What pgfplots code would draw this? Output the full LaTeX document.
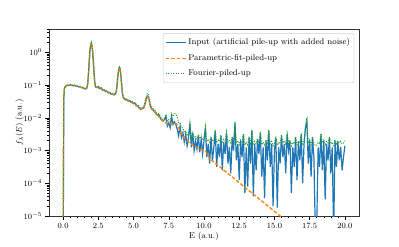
\documentclass[border=0pt]{standalone}
\usepackage{pgfplots}
\pgfplotsset{compat=1.18}
\usepackage{pgfplotstable}
\definecolor{C0}{HTML}{1F77B4}
\definecolor{C1}{HTML}{FF7F0E}
\definecolor{C2}{HTML}{2CA02C}

\pgfplotstableread{
x y
0.0 1e-7
0.05 0.04
0.1 0.082
0.2 0.093
0.3 0.1
0.4 0.097
0.5 0.104
0.6 0.099
0.7 0.096
0.8 0.1
0.9 0.093
1.0 0.095
1.1 0.088
1.2 0.09
1.3 0.083
1.4 0.086
1.5 0.078
1.6 0.076
1.7 0.084
1.75 0.112
1.8 0.22
1.85 0.5
1.9 1.05
1.95 1.62
2.0 1.97
2.05 1.58
2.1 1.04
2.15 0.51
2.2 0.23
2.25 0.12
2.3 0.088
2.4 0.085
2.5 0.09
2.6 0.078
2.7 0.082
2.8 0.07
2.9 0.073
3.0 0.064
3.1 0.066
3.2 0.058
3.3 0.06
3.4 0.053
3.5 0.055
3.6 0.05
3.7 0.053
3.75 0.059
3.8 0.076
3.85 0.126
3.9 0.21
3.95 0.31
4.0 0.35
4.05 0.31
4.1 0.2
4.15 0.11
4.2 0.062
4.25 0.046
4.3 0.04
4.4 0.036
4.5 0.037
4.6 0.033
4.7 0.034
4.8 0.03
4.9 0.031
5.0 0.027
5.1 0.028
5.2 0.024
5.3 0.023
5.4 0.02
5.5 0.018
5.6 0.019
5.7 0.02
5.75 0.021
5.8 0.026
5.85 0.031
5.9 0.038
5.95 0.043
6.0 0.046
6.05 0.043
6.1 0.036
6.15 0.028
6.2 0.022
6.3 0.019
6.4 0.017
6.5 0.016
6.6 0.013
6.7 0.012
6.8 0.0125
6.9 0.0098
7.0 0.0085
7.1 7.9e-3
7.2 8.9e-3
7.3 1.12e-2
7.4 5.6e-3
7.5 7.1e-3
7.6 5.0e-3
7.7 1.12e-2
7.8 6.3e-3
7.9 7.6e-3
8.0 6.3e-3
8.1 4.5e-3
8.2 2.8e-3
8.3 5.6e-3
8.4 2.5e-3
8.5 3.5e-3
8.6 1.8e-3
8.7 3.2e-3
8.8 1.4e-3
8.9 2.5e-3
9.0 6.8e-3
9.1 1.26e-3
9.2 3.5e-3
9.3 1.0e-3
9.4 2.0e-3
9.5 1.12e-3
9.6 2.8e-3
9.7 8.9e-4
9.8 2.2e-3
9.9 7.9e-4
10.0 2.0e-3
10.1 5.0e-3
10.2 6.3e-4
10.3 1.6e-3
10.4 4.0e-4
10.5 2.5e-3
10.6 5.0e-4
10.7 1.26e-3
10.8 4.0e-3
10.9 3.2e-4
11.0 1.6e-3
11.1 6.3e-4
11.2 2.8e-3
11.3 2.5e-4
11.4 1.8e-3
11.5 7.9e-4
11.6 3.5e-3
11.7 4.0e-4
11.8 1.26e-3
11.9 2.0e-4
12.0 2.5e-3
12.1 1.0e-3
12.2 7.1e-3
12.3 5.0e-4
12.4 1.6e-3
12.5 1.26e-4
12.6 2.0e-3
12.7 6.3e-4
12.8 3.2e-3
12.9 5.0e-5
13.0 1.26e-3
13.1 7.9e-5
13.2 2.5e-3
13.3 4.0e-4
13.4 4.0e-3
13.5 4.0e-5
13.6 1.6e-3
13.7 2.5e-4
13.8 2.2e-3
13.9 7.9e-4
14.0 3.5e-3
14.1 1.6e-4
14.2 1.26e-3
14.3 3.5e-5
14.4 2.0e-3
14.5 5.0e-4
14.6 4.0e-3
14.7 3.2e-4
14.8 1.6e-3
14.9 2.0e-5
15.0 1.0e-3
15.1 2.5e-3
15.2 1.8e-5
15.3 1.26e-3
15.4 4.0e-4
15.5 2.8e-3
15.6 6.3e-4
15.7 1.6e-3
15.8 2.0e-4
15.9 3.2e-3
16.0 1.0e-3
16.1 2.0e-3
16.2 5.0e-5
16.3 1.26e-3
16.4 3.2e-4
16.5 2.5e-3
16.6 1.26e-4
16.7 1.8e-3
16.8 5.0e-4
16.9 3.2e-3
17.0 1.0e-4
17.1 1.6e-3
17.2 5.0e-3
17.3 7.9e-3
17.4 4.0e-4
17.5 2.0e-3
17.6 1.6e-4
17.7 2.5e-3
17.8 6.3e-4
17.9 3.2e-6
18.0 5.0e-6
18.1 1.26e-3
18.2 3.2e-4
18.3 3.2e-3
18.4 2.5e-4
18.5 2.0e-3
18.6 3.2e-5
18.7 1.6e-3
18.8 5.0e-4
18.9 2.5e-3
19.0 2.0e-4
19.1 1.26e-3
19.2 2.5e-6
19.3 2.0e-3
19.4 3.2e-4
19.5 1.8e-3
19.6 5.0e-4
19.7 1.26e-3
19.8 2.5e-4
19.9 6.3e-4
20.0 1.4e-3
}\inputdata

\pgfplotstableread{
x y
0.0 1e-7
0.03 0.04
0.1 0.085
0.2 0.095
0.3 0.1
0.5 0.102
0.7 0.098
1.0 0.092
1.3 0.085
1.6 0.079
1.7 0.083
1.75 0.11
1.8 0.21
1.85 0.49
1.9 1.03
1.95 1.6
2.0 1.93
2.05 1.6
2.1 1.03
2.15 0.49
2.2 0.21
2.25 0.11
2.3 0.09
2.4 0.086
2.7 0.076
3.0 0.066
3.3 0.058
3.6 0.052
3.7 0.053
3.75 0.058
3.8 0.075
3.85 0.124
3.9 0.205
3.95 0.3
4.0 0.34
4.05 0.3
4.1 0.195
4.15 0.108
4.2 0.06
4.25 0.045
4.3 0.039
4.4 0.036
4.7 0.032
5.0 0.027
5.3 0.022
5.5 0.019
5.7 0.0195
5.75 0.021
5.8 0.025
5.85 0.03
5.9 0.037
5.95 0.042
6.0 0.044
6.05 0.041
6.1 0.035
6.15 0.027
6.2 0.021
6.3 0.018
6.6 0.0135
7.0 0.0085
7.4 0.0066
7.7 0.0063
7.9 0.0071
8.1 0.0063
8.3 0.004
8.5 0.0028
8.7 0.0022
9.0 0.00166
9.3 0.00138
9.6 0.00115
9.8 0.00107
10.0 0.00102
10.1 0.001
10.2 0.00083
10.3 0.00068
10.4 0.00058
10.5 0.00052
11.0 0.00035
11.5 0.000234
12.0 0.000155
12.5 0.000105
13.0 6.9e-5
13.5 4.7e-5
14.0 3.1e-5
14.5 2.1e-5
15.0 1.38e-5
15.5 9.3e-6
16.0 6.2e-6
17.0 2.7e-6
18.0 1.2e-6
19.0 5e-7
20.0 2.2e-7
}\paramdata

\pgfplotstableread{
x y
0.0 1e-7
0.05 0.042
0.1 0.084
0.2 0.095
0.3 0.099
0.4 0.1
0.5 0.103
0.6 0.1
0.7 0.097
0.8 0.099
0.9 0.094
1.0 0.094
1.1 0.09
1.2 0.089
1.3 0.085
1.4 0.085
1.5 0.08
1.6 0.077
1.7 0.086
1.75 0.115
1.8 0.225
1.85 0.51
1.9 1.07
1.95 1.65
2.0 2.02
2.05 1.62
2.1 1.06
2.15 0.52
2.2 0.235
2.25 0.123
2.3 0.09
2.4 0.087
2.5 0.092
2.6 0.08
2.7 0.083
2.8 0.072
2.9 0.075
3.0 0.066
3.1 0.067
3.2 0.06
3.3 0.061
3.4 0.055
3.5 0.056
3.6 0.052
3.7 0.055
3.75 0.061
3.8 0.079
3.85 0.13
3.9 0.22
3.95 0.32
4.0 0.37
4.05 0.32
4.1 0.21
4.15 0.115
4.2 0.065
4.25 0.048
4.3 0.042
4.4 0.038
4.5 0.038
4.6 0.035
4.7 0.035
4.8 0.032
4.9 0.032
5.0 0.029
5.1 0.029
5.2 0.026
5.3 0.025
5.4 0.022
5.5 0.02
5.6 0.021
5.7 0.022
5.75 0.024
5.8 0.03
5.85 0.037
5.9 0.046
5.95 0.053
6.0 0.057
6.05 0.052
6.1 0.043
6.15 0.033
6.2 0.026
6.3 0.022
6.4 0.019
6.5 0.018
6.6 0.015
6.7 0.0135
6.8 0.0135
6.9 0.011
7.0 0.0095
7.1 8.9e-3
7.2 1.0e-2
7.3 1.26e-2
7.4 7.9e-3
7.5 8.9e-3
7.6 7.9e-3
7.7 1.26e-2
7.8 1.12e-2
7.9 1.35e-2
8.0 1.32e-2
8.1 1.05e-2
8.2 7.1e-3
8.3 7.1e-3
8.4 5.0e-3
8.5 5.0e-3
8.6 3.5e-3
8.7 4.0e-3
8.8 2.8e-3
8.9 3.2e-3
9.0 7.1e-3
9.1 2.4e-3
9.2 3.8e-3
9.3 2.6e-3
9.4 2.8e-3
9.5 2.2e-3
9.6 3.2e-3
9.7 2.3e-3
9.8 2.6e-3
9.9 2.1e-3
10.0 2.4e-3
10.1 5.4e-3
10.2 2.0e-3
10.3 2.2e-3
10.4 1.8e-3
10.5 2.7e-3
10.6 1.9e-3
10.7 2.2e-3
10.8 4.3e-3
10.9 1.7e-3
11.0 2.1e-3
11.1 1.9e-3
11.2 3.0e-3
11.3 1.7e-3
11.4 2.2e-3
11.5 1.95e-3
11.6 3.8e-3
11.7 1.8e-3
11.8 2.0e-3
11.9 1.6e-3
12.0 2.7e-3
12.1 2.0e-3
12.2 7.6e-3
12.3 1.7e-3
12.4 2.0e-3
12.5 1.5e-3
12.6 2.1e-3
12.7 1.7e-3
12.8 3.4e-3
12.9 1.45e-3
13.0 1.8e-3
13.1 1.5e-3
13.2 2.7e-3
13.3 1.7e-3
13.4 4.3e-3
13.5 1.45e-3
13.6 1.9e-3
13.7 1.6e-3
13.8 2.4e-3
13.9 1.7e-3
14.0 3.8e-3
14.1 1.5e-3
14.2 1.8e-3
14.3 1.4e-3
14.4 2.1e-3
14.5 1.7e-3
14.6 4.3e-3
14.7 1.6e-3
14.8 1.9e-3
14.9 1.4e-3
15.0 1.7e-3
15.1 2.7e-3
15.2 1.45e-3
15.3 1.8e-3
15.4 1.6e-3
15.5 3.0e-3
15.6 1.7e-3
15.7 2.0e-3
15.8 1.5e-3
15.9 3.4e-3
16.0 1.8e-3
16.1 2.1e-3
16.2 1.4e-3
16.3 1.8e-3
16.4 1.6e-3
16.5 2.7e-3
16.6 1.5e-3
16.7 2.0e-3
16.8 1.7e-3
16.9 3.4e-3
17.0 1.45e-3
17.1 1.9e-3
17.2 5.4e-3
17.3 1.0e-2
17.4 1.7e-3
17.5 2.1e-3
17.6 1.5e-3
17.7 2.7e-3
17.8 1.7e-3
17.9 1.4e-3
18.0 1.45e-3
18.1 1.8e-3
18.2 1.6e-3
18.3 3.4e-3
18.4 1.7e-3
18.5 2.1e-3
18.6 1.4e-3
18.7 1.9e-3
18.8 1.7e-3
18.9 2.7e-3
19.0 1.6e-3
19.1 1.8e-3
19.2 1.3e-3
19.3 2.1e-3
19.4 1.6e-3
19.5 2.0e-3
19.6 1.7e-3
19.7 1.9e-3
19.8 1.6e-3
19.9 1.7e-3
20.0 2.0e-3
}\fourierdata

\begin{document}
\begin{tikzpicture}
\path[use as bounding box] (0,0) rectangle (399bp,247bp);
\begin{axis}[
  at={(49bp,31bp)}, anchor=south west,
  scale only axis, width=310bp, height=187bp,
  ymode=log,
  xmin=-1, xmax=21, ymin=1e-5, ymax=5.2,
  xtick={0,2.5,...,20},
  minor x tick num=4,
  xticklabel style={/pgf/number format/.cd, fixed, fixed zerofill, precision=1},
  tick align=outside,
  xtick pos=bottom, ytick pos=left,
  major tick length=3.5bp, minor tick length=2bp,
  every tick/.style={black, line width=0.5bp},
  axis line style={black!80, line width=0.6bp},
  font=\fontsize{8.5}{10}\selectfont,
  ticklabel style={font=\fontsize{8.5}{10}\selectfont},
  xlabel={E (a.u.)},
  ylabel={$f_\lambda(E)$ (a.u.)},
  xlabel style={yshift=3bp},
  ylabel style={yshift=-7bp},
  legend style={at={(0.985,0.978)}, anchor=north east, draw=black!20,
    rounded corners=2bp, fill=white, font=\fontsize{8.4}{9.5}\selectfont,
    row sep=0.6bp, inner xsep=2bp, inner ysep=1.5bp,
    nodes={inner ysep=3.8bp}},
  legend cell align=left,
  legend image code/.code={\draw[#1] (0bp,0bp) -- (20bp,0bp);},
]
\addplot[C0, line width=1.2bp] table {\inputdata};
\addlegendentry{Input (artificial pile-up with added noise)}
\addplot[C1, line width=1.3bp, dash pattern=on 3.6bp off 1.8bp] table {\paramdata};
\addlegendentry{Parametric-fit-piled-up}
\addplot[C2, line width=1.0bp, dash pattern=on 1.0bp off 1.5bp] table {\fourierdata};
\addlegendentry{Fourier-piled-up}
\end{axis}
\end{tikzpicture}
\end{document}
